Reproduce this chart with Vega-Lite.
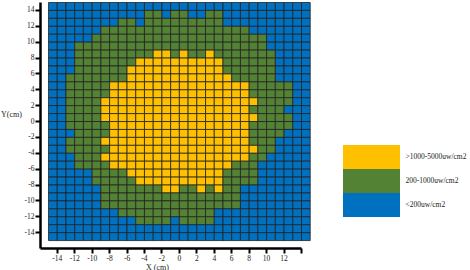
{
"$schema": "https://vega.github.io/schema/vega-lite/v6.json",
"width": 261, "height": 246,
"autosize": {"type": "none"},
"padding": {"left": 40, "top": 2, "right": 169, "bottom": 22},
"background": "white",
"config": {"view": {"stroke": null}},
"data": {"values": [
{"x":-15,"y":14,"c":"C"},{"x":-14,"y":14,"c":"C"},{"x":-13,"y":14,"c":"C"},{"x":-12,"y":14,"c":"C"},{"x":-11,"y":14,"c":"C"},{"x":-10,"y":14,"c":"C"},{"x":-9,"y":14,"c":"C"},{"x":-8,"y":14,"c":"C"},{"x":-7,"y":14,"c":"C"},{"x":-6,"y":14,"c":"C"},{"x":-5,"y":14,"c":"C"},{"x":-4,"y":14,"c":"C"},{"x":-3,"y":14,"c":"C"},{"x":-2,"y":14,"c":"C"},{"x":-1,"y":14,"c":"C"},{"x":0,"y":14,"c":"C"},{"x":1,"y":14,"c":"C"},{"x":2,"y":14,"c":"C"},{"x":3,"y":14,"c":"C"},{"x":4,"y":14,"c":"C"},{"x":5,"y":14,"c":"C"},{"x":6,"y":14,"c":"C"},{"x":7,"y":14,"c":"C"},{"x":8,"y":14,"c":"C"},{"x":9,"y":14,"c":"C"},{"x":10,"y":14,"c":"C"},{"x":11,"y":14,"c":"C"},{"x":12,"y":14,"c":"C"},{"x":13,"y":14,"c":"C"},{"x":14,"y":14,"c":"C"},
{"x":-15,"y":13,"c":"C"},{"x":-14,"y":13,"c":"C"},{"x":-13,"y":13,"c":"C"},{"x":-12,"y":13,"c":"C"},{"x":-11,"y":13,"c":"C"},{"x":-10,"y":13,"c":"C"},{"x":-9,"y":13,"c":"C"},{"x":-8,"y":13,"c":"C"},{"x":-7,"y":13,"c":"C"},{"x":-6,"y":13,"c":"C"},{"x":-5,"y":13,"c":"C"},{"x":-4,"y":13,"c":"B"},{"x":-3,"y":13,"c":"B"},{"x":-2,"y":13,"c":"C"},{"x":-1,"y":13,"c":"B"},{"x":0,"y":13,"c":"B"},{"x":1,"y":13,"c":"C"},{"x":2,"y":13,"c":"C"},{"x":3,"y":13,"c":"B"},{"x":4,"y":13,"c":"B"},{"x":5,"y":13,"c":"C"},{"x":6,"y":13,"c":"C"},{"x":7,"y":13,"c":"C"},{"x":8,"y":13,"c":"C"},{"x":9,"y":13,"c":"C"},{"x":10,"y":13,"c":"C"},{"x":11,"y":13,"c":"C"},{"x":12,"y":13,"c":"C"},{"x":13,"y":13,"c":"C"},{"x":14,"y":13,"c":"C"},
{"x":-15,"y":12,"c":"C"},{"x":-14,"y":12,"c":"C"},{"x":-13,"y":12,"c":"C"},{"x":-12,"y":12,"c":"C"},{"x":-11,"y":12,"c":"C"},{"x":-10,"y":12,"c":"C"},{"x":-9,"y":12,"c":"C"},{"x":-8,"y":12,"c":"C"},{"x":-7,"y":12,"c":"B"},{"x":-6,"y":12,"c":"B"},{"x":-5,"y":12,"c":"C"},{"x":-4,"y":12,"c":"B"},{"x":-3,"y":12,"c":"B"},{"x":-2,"y":12,"c":"B"},{"x":-1,"y":12,"c":"B"},{"x":0,"y":12,"c":"B"},{"x":1,"y":12,"c":"B"},{"x":2,"y":12,"c":"B"},{"x":3,"y":12,"c":"B"},{"x":4,"y":12,"c":"B"},{"x":5,"y":12,"c":"C"},{"x":6,"y":12,"c":"C"},{"x":7,"y":12,"c":"C"},{"x":8,"y":12,"c":"C"},{"x":9,"y":12,"c":"C"},{"x":10,"y":12,"c":"C"},{"x":11,"y":12,"c":"C"},{"x":12,"y":12,"c":"C"},{"x":13,"y":12,"c":"C"},{"x":14,"y":12,"c":"C"},
{"x":-15,"y":11,"c":"C"},{"x":-14,"y":11,"c":"C"},{"x":-13,"y":11,"c":"C"},{"x":-12,"y":11,"c":"C"},{"x":-11,"y":11,"c":"C"},{"x":-10,"y":11,"c":"C"},{"x":-9,"y":11,"c":"B"},{"x":-8,"y":11,"c":"B"},{"x":-7,"y":11,"c":"B"},{"x":-6,"y":11,"c":"B"},{"x":-5,"y":11,"c":"B"},{"x":-4,"y":11,"c":"B"},{"x":-3,"y":11,"c":"B"},{"x":-2,"y":11,"c":"B"},{"x":-1,"y":11,"c":"B"},{"x":0,"y":11,"c":"B"},{"x":1,"y":11,"c":"B"},{"x":2,"y":11,"c":"B"},{"x":3,"y":11,"c":"B"},{"x":4,"y":11,"c":"B"},{"x":5,"y":11,"c":"B"},{"x":6,"y":11,"c":"B"},{"x":7,"y":11,"c":"B"},{"x":8,"y":11,"c":"C"},{"x":9,"y":11,"c":"C"},{"x":10,"y":11,"c":"C"},{"x":11,"y":11,"c":"C"},{"x":12,"y":11,"c":"C"},{"x":13,"y":11,"c":"C"},{"x":14,"y":11,"c":"C"},
{"x":-15,"y":10,"c":"C"},{"x":-14,"y":10,"c":"C"},{"x":-13,"y":10,"c":"C"},{"x":-12,"y":10,"c":"C"},{"x":-11,"y":10,"c":"C"},{"x":-10,"y":10,"c":"B"},{"x":-9,"y":10,"c":"B"},{"x":-8,"y":10,"c":"B"},{"x":-7,"y":10,"c":"B"},{"x":-6,"y":10,"c":"B"},{"x":-5,"y":10,"c":"B"},{"x":-4,"y":10,"c":"B"},{"x":-3,"y":10,"c":"B"},{"x":-2,"y":10,"c":"B"},{"x":-1,"y":10,"c":"B"},{"x":0,"y":10,"c":"B"},{"x":1,"y":10,"c":"B"},{"x":2,"y":10,"c":"B"},{"x":3,"y":10,"c":"B"},{"x":4,"y":10,"c":"B"},{"x":5,"y":10,"c":"B"},{"x":6,"y":10,"c":"B"},{"x":7,"y":10,"c":"B"},{"x":8,"y":10,"c":"B"},{"x":9,"y":10,"c":"B"},{"x":10,"y":10,"c":"C"},{"x":11,"y":10,"c":"C"},{"x":12,"y":10,"c":"C"},{"x":13,"y":10,"c":"C"},{"x":14,"y":10,"c":"C"},
{"x":-15,"y":9,"c":"C"},{"x":-14,"y":9,"c":"C"},{"x":-13,"y":9,"c":"C"},{"x":-12,"y":9,"c":"B"},{"x":-11,"y":9,"c":"B"},{"x":-10,"y":9,"c":"B"},{"x":-9,"y":9,"c":"B"},{"x":-8,"y":9,"c":"B"},{"x":-7,"y":9,"c":"B"},{"x":-6,"y":9,"c":"B"},{"x":-5,"y":9,"c":"B"},{"x":-4,"y":9,"c":"B"},{"x":-3,"y":9,"c":"B"},{"x":-2,"y":9,"c":"B"},{"x":-1,"y":9,"c":"B"},{"x":0,"y":9,"c":"B"},{"x":1,"y":9,"c":"B"},{"x":2,"y":9,"c":"B"},{"x":3,"y":9,"c":"B"},{"x":4,"y":9,"c":"B"},{"x":5,"y":9,"c":"B"},{"x":6,"y":9,"c":"B"},{"x":7,"y":9,"c":"B"},{"x":8,"y":9,"c":"B"},{"x":9,"y":9,"c":"B"},{"x":10,"y":9,"c":"C"},{"x":11,"y":9,"c":"C"},{"x":12,"y":9,"c":"C"},{"x":13,"y":9,"c":"C"},{"x":14,"y":9,"c":"C"},
{"x":-15,"y":8,"c":"C"},{"x":-14,"y":8,"c":"C"},{"x":-13,"y":8,"c":"C"},{"x":-12,"y":8,"c":"B"},{"x":-11,"y":8,"c":"B"},{"x":-10,"y":8,"c":"B"},{"x":-9,"y":8,"c":"B"},{"x":-8,"y":8,"c":"B"},{"x":-7,"y":8,"c":"B"},{"x":-6,"y":8,"c":"B"},{"x":-5,"y":8,"c":"B"},{"x":-4,"y":8,"c":"B"},{"x":-3,"y":8,"c":"A"},{"x":-2,"y":8,"c":"A"},{"x":-1,"y":8,"c":"B"},{"x":0,"y":8,"c":"A"},{"x":1,"y":8,"c":"B"},{"x":2,"y":8,"c":"B"},{"x":3,"y":8,"c":"A"},{"x":4,"y":8,"c":"B"},{"x":5,"y":8,"c":"B"},{"x":6,"y":8,"c":"B"},{"x":7,"y":8,"c":"B"},{"x":8,"y":8,"c":"B"},{"x":9,"y":8,"c":"B"},{"x":10,"y":8,"c":"B"},{"x":11,"y":8,"c":"C"},{"x":12,"y":8,"c":"C"},{"x":13,"y":8,"c":"C"},{"x":14,"y":8,"c":"C"},
{"x":-15,"y":7,"c":"C"},{"x":-14,"y":7,"c":"C"},{"x":-13,"y":7,"c":"C"},{"x":-12,"y":7,"c":"B"},{"x":-11,"y":7,"c":"B"},{"x":-10,"y":7,"c":"B"},{"x":-9,"y":7,"c":"B"},{"x":-8,"y":7,"c":"B"},{"x":-7,"y":7,"c":"B"},{"x":-6,"y":7,"c":"B"},{"x":-5,"y":7,"c":"A"},{"x":-4,"y":7,"c":"A"},{"x":-3,"y":7,"c":"A"},{"x":-2,"y":7,"c":"A"},{"x":-1,"y":7,"c":"A"},{"x":0,"y":7,"c":"A"},{"x":1,"y":7,"c":"A"},{"x":2,"y":7,"c":"A"},{"x":3,"y":7,"c":"A"},{"x":4,"y":7,"c":"A"},{"x":5,"y":7,"c":"B"},{"x":6,"y":7,"c":"B"},{"x":7,"y":7,"c":"B"},{"x":8,"y":7,"c":"B"},{"x":9,"y":7,"c":"B"},{"x":10,"y":7,"c":"B"},{"x":11,"y":7,"c":"C"},{"x":12,"y":7,"c":"C"},{"x":13,"y":7,"c":"C"},{"x":14,"y":7,"c":"C"},
{"x":-15,"y":6,"c":"C"},{"x":-14,"y":6,"c":"C"},{"x":-13,"y":6,"c":"C"},{"x":-12,"y":6,"c":"B"},{"x":-11,"y":6,"c":"B"},{"x":-10,"y":6,"c":"B"},{"x":-9,"y":6,"c":"B"},{"x":-8,"y":6,"c":"B"},{"x":-7,"y":6,"c":"B"},{"x":-6,"y":6,"c":"A"},{"x":-5,"y":6,"c":"A"},{"x":-4,"y":6,"c":"A"},{"x":-3,"y":6,"c":"A"},{"x":-2,"y":6,"c":"A"},{"x":-1,"y":6,"c":"A"},{"x":0,"y":6,"c":"A"},{"x":1,"y":6,"c":"A"},{"x":2,"y":6,"c":"A"},{"x":3,"y":6,"c":"A"},{"x":4,"y":6,"c":"A"},{"x":5,"y":6,"c":"B"},{"x":6,"y":6,"c":"B"},{"x":7,"y":6,"c":"B"},{"x":8,"y":6,"c":"B"},{"x":9,"y":6,"c":"B"},{"x":10,"y":6,"c":"B"},{"x":11,"y":6,"c":"C"},{"x":12,"y":6,"c":"C"},{"x":13,"y":6,"c":"C"},{"x":14,"y":6,"c":"C"},
{"x":-15,"y":5,"c":"C"},{"x":-14,"y":5,"c":"C"},{"x":-13,"y":5,"c":"B"},{"x":-12,"y":5,"c":"B"},{"x":-11,"y":5,"c":"B"},{"x":-10,"y":5,"c":"B"},{"x":-9,"y":5,"c":"B"},{"x":-8,"y":5,"c":"B"},{"x":-7,"y":5,"c":"B"},{"x":-6,"y":5,"c":"A"},{"x":-5,"y":5,"c":"A"},{"x":-4,"y":5,"c":"A"},{"x":-3,"y":5,"c":"A"},{"x":-2,"y":5,"c":"A"},{"x":-1,"y":5,"c":"A"},{"x":0,"y":5,"c":"A"},{"x":1,"y":5,"c":"A"},{"x":2,"y":5,"c":"A"},{"x":3,"y":5,"c":"A"},{"x":4,"y":5,"c":"A"},{"x":5,"y":5,"c":"A"},{"x":6,"y":5,"c":"B"},{"x":7,"y":5,"c":"B"},{"x":8,"y":5,"c":"B"},{"x":9,"y":5,"c":"B"},{"x":10,"y":5,"c":"B"},{"x":11,"y":5,"c":"C"},{"x":12,"y":5,"c":"C"},{"x":13,"y":5,"c":"C"},{"x":14,"y":5,"c":"C"},
{"x":-15,"y":4,"c":"C"},{"x":-14,"y":4,"c":"C"},{"x":-13,"y":4,"c":"B"},{"x":-12,"y":4,"c":"B"},{"x":-11,"y":4,"c":"B"},{"x":-10,"y":4,"c":"B"},{"x":-9,"y":4,"c":"B"},{"x":-8,"y":4,"c":"A"},{"x":-7,"y":4,"c":"A"},{"x":-6,"y":4,"c":"A"},{"x":-5,"y":4,"c":"A"},{"x":-4,"y":4,"c":"A"},{"x":-3,"y":4,"c":"A"},{"x":-2,"y":4,"c":"A"},{"x":-1,"y":4,"c":"A"},{"x":0,"y":4,"c":"A"},{"x":1,"y":4,"c":"A"},{"x":2,"y":4,"c":"A"},{"x":3,"y":4,"c":"A"},{"x":4,"y":4,"c":"A"},{"x":5,"y":4,"c":"A"},{"x":6,"y":4,"c":"A"},{"x":7,"y":4,"c":"A"},{"x":8,"y":4,"c":"B"},{"x":9,"y":4,"c":"B"},{"x":10,"y":4,"c":"B"},{"x":11,"y":4,"c":"B"},{"x":12,"y":4,"c":"B"},{"x":13,"y":4,"c":"C"},{"x":14,"y":4,"c":"C"},
{"x":-15,"y":3,"c":"C"},{"x":-14,"y":3,"c":"C"},{"x":-13,"y":3,"c":"B"},{"x":-12,"y":3,"c":"B"},{"x":-11,"y":3,"c":"B"},{"x":-10,"y":3,"c":"B"},{"x":-9,"y":3,"c":"B"},{"x":-8,"y":3,"c":"A"},{"x":-7,"y":3,"c":"A"},{"x":-6,"y":3,"c":"A"},{"x":-5,"y":3,"c":"A"},{"x":-4,"y":3,"c":"A"},{"x":-3,"y":3,"c":"A"},{"x":-2,"y":3,"c":"A"},{"x":-1,"y":3,"c":"A"},{"x":0,"y":3,"c":"A"},{"x":1,"y":3,"c":"A"},{"x":2,"y":3,"c":"A"},{"x":3,"y":3,"c":"A"},{"x":4,"y":3,"c":"A"},{"x":5,"y":3,"c":"A"},{"x":6,"y":3,"c":"A"},{"x":7,"y":3,"c":"A"},{"x":8,"y":3,"c":"B"},{"x":9,"y":3,"c":"B"},{"x":10,"y":3,"c":"B"},{"x":11,"y":3,"c":"B"},{"x":12,"y":3,"c":"B"},{"x":13,"y":3,"c":"C"},{"x":14,"y":3,"c":"C"},
{"x":-15,"y":2,"c":"C"},{"x":-14,"y":2,"c":"C"},{"x":-13,"y":2,"c":"B"},{"x":-12,"y":2,"c":"B"},{"x":-11,"y":2,"c":"B"},{"x":-10,"y":2,"c":"B"},{"x":-9,"y":2,"c":"A"},{"x":-8,"y":2,"c":"A"},{"x":-7,"y":2,"c":"A"},{"x":-6,"y":2,"c":"A"},{"x":-5,"y":2,"c":"A"},{"x":-4,"y":2,"c":"A"},{"x":-3,"y":2,"c":"A"},{"x":-2,"y":2,"c":"A"},{"x":-1,"y":2,"c":"A"},{"x":0,"y":2,"c":"A"},{"x":1,"y":2,"c":"A"},{"x":2,"y":2,"c":"A"},{"x":3,"y":2,"c":"A"},{"x":4,"y":2,"c":"A"},{"x":5,"y":2,"c":"A"},{"x":6,"y":2,"c":"A"},{"x":7,"y":2,"c":"A"},{"x":8,"y":2,"c":"A"},{"x":9,"y":2,"c":"B"},{"x":10,"y":2,"c":"B"},{"x":11,"y":2,"c":"B"},{"x":12,"y":2,"c":"B"},{"x":13,"y":2,"c":"C"},{"x":14,"y":2,"c":"C"},
{"x":-15,"y":1,"c":"C"},{"x":-14,"y":1,"c":"C"},{"x":-13,"y":1,"c":"B"},{"x":-12,"y":1,"c":"B"},{"x":-11,"y":1,"c":"B"},{"x":-10,"y":1,"c":"B"},{"x":-9,"y":1,"c":"A"},{"x":-8,"y":1,"c":"A"},{"x":-7,"y":1,"c":"A"},{"x":-6,"y":1,"c":"A"},{"x":-5,"y":1,"c":"A"},{"x":-4,"y":1,"c":"A"},{"x":-3,"y":1,"c":"A"},{"x":-2,"y":1,"c":"A"},{"x":-1,"y":1,"c":"A"},{"x":0,"y":1,"c":"A"},{"x":1,"y":1,"c":"A"},{"x":2,"y":1,"c":"A"},{"x":3,"y":1,"c":"A"},{"x":4,"y":1,"c":"A"},{"x":5,"y":1,"c":"A"},{"x":6,"y":1,"c":"A"},{"x":7,"y":1,"c":"A"},{"x":8,"y":1,"c":"B"},{"x":9,"y":1,"c":"B"},{"x":10,"y":1,"c":"B"},{"x":11,"y":1,"c":"B"},{"x":12,"y":1,"c":"C"},{"x":13,"y":1,"c":"C"},{"x":14,"y":1,"c":"C"},
{"x":-15,"y":0,"c":"C"},{"x":-14,"y":0,"c":"C"},{"x":-13,"y":0,"c":"B"},{"x":-12,"y":0,"c":"B"},{"x":-11,"y":0,"c":"B"},{"x":-10,"y":0,"c":"B"},{"x":-9,"y":0,"c":"A"},{"x":-8,"y":0,"c":"A"},{"x":-7,"y":0,"c":"A"},{"x":-6,"y":0,"c":"A"},{"x":-5,"y":0,"c":"A"},{"x":-4,"y":0,"c":"A"},{"x":-3,"y":0,"c":"A"},{"x":-2,"y":0,"c":"A"},{"x":-1,"y":0,"c":"A"},{"x":0,"y":0,"c":"A"},{"x":1,"y":0,"c":"A"},{"x":2,"y":0,"c":"A"},{"x":3,"y":0,"c":"A"},{"x":4,"y":0,"c":"A"},{"x":5,"y":0,"c":"A"},{"x":6,"y":0,"c":"A"},{"x":7,"y":0,"c":"A"},{"x":8,"y":0,"c":"A"},{"x":9,"y":0,"c":"B"},{"x":10,"y":0,"c":"B"},{"x":11,"y":0,"c":"B"},{"x":12,"y":0,"c":"B"},{"x":13,"y":0,"c":"C"},{"x":14,"y":0,"c":"C"},
{"x":-15,"y":-1,"c":"C"},{"x":-14,"y":-1,"c":"C"},{"x":-13,"y":-1,"c":"B"},{"x":-12,"y":-1,"c":"B"},{"x":-11,"y":-1,"c":"B"},{"x":-10,"y":-1,"c":"B"},{"x":-9,"y":-1,"c":"B"},{"x":-8,"y":-1,"c":"A"},{"x":-7,"y":-1,"c":"A"},{"x":-6,"y":-1,"c":"A"},{"x":-5,"y":-1,"c":"A"},{"x":-4,"y":-1,"c":"A"},{"x":-3,"y":-1,"c":"A"},{"x":-2,"y":-1,"c":"A"},{"x":-1,"y":-1,"c":"A"},{"x":0,"y":-1,"c":"A"},{"x":1,"y":-1,"c":"A"},{"x":2,"y":-1,"c":"A"},{"x":3,"y":-1,"c":"A"},{"x":4,"y":-1,"c":"A"},{"x":5,"y":-1,"c":"A"},{"x":6,"y":-1,"c":"A"},{"x":7,"y":-1,"c":"A"},{"x":8,"y":-1,"c":"B"},{"x":9,"y":-1,"c":"B"},{"x":10,"y":-1,"c":"B"},{"x":11,"y":-1,"c":"B"},{"x":12,"y":-1,"c":"B"},{"x":13,"y":-1,"c":"C"},{"x":14,"y":-1,"c":"C"},
{"x":-15,"y":-2,"c":"C"},{"x":-14,"y":-2,"c":"C"},{"x":-13,"y":-2,"c":"C"},{"x":-12,"y":-2,"c":"B"},{"x":-11,"y":-2,"c":"B"},{"x":-10,"y":-2,"c":"B"},{"x":-9,"y":-2,"c":"B"},{"x":-8,"y":-2,"c":"A"},{"x":-7,"y":-2,"c":"A"},{"x":-6,"y":-2,"c":"A"},{"x":-5,"y":-2,"c":"A"},{"x":-4,"y":-2,"c":"A"},{"x":-3,"y":-2,"c":"A"},{"x":-2,"y":-2,"c":"A"},{"x":-1,"y":-2,"c":"A"},{"x":0,"y":-2,"c":"A"},{"x":1,"y":-2,"c":"A"},{"x":2,"y":-2,"c":"A"},{"x":3,"y":-2,"c":"A"},{"x":4,"y":-2,"c":"A"},{"x":5,"y":-2,"c":"A"},{"x":6,"y":-2,"c":"A"},{"x":7,"y":-2,"c":"A"},{"x":8,"y":-2,"c":"B"},{"x":9,"y":-2,"c":"B"},{"x":10,"y":-2,"c":"B"},{"x":11,"y":-2,"c":"B"},{"x":12,"y":-2,"c":"C"},{"x":13,"y":-2,"c":"C"},{"x":14,"y":-2,"c":"C"},
{"x":-15,"y":-3,"c":"C"},{"x":-14,"y":-3,"c":"C"},{"x":-13,"y":-3,"c":"B"},{"x":-12,"y":-3,"c":"B"},{"x":-11,"y":-3,"c":"B"},{"x":-10,"y":-3,"c":"B"},{"x":-9,"y":-3,"c":"A"},{"x":-8,"y":-3,"c":"A"},{"x":-7,"y":-3,"c":"A"},{"x":-6,"y":-3,"c":"A"},{"x":-5,"y":-3,"c":"A"},{"x":-4,"y":-3,"c":"A"},{"x":-3,"y":-3,"c":"A"},{"x":-2,"y":-3,"c":"A"},{"x":-1,"y":-3,"c":"A"},{"x":0,"y":-3,"c":"A"},{"x":1,"y":-3,"c":"A"},{"x":2,"y":-3,"c":"A"},{"x":3,"y":-3,"c":"A"},{"x":4,"y":-3,"c":"A"},{"x":5,"y":-3,"c":"A"},{"x":6,"y":-3,"c":"A"},{"x":7,"y":-3,"c":"A"},{"x":8,"y":-3,"c":"B"},{"x":9,"y":-3,"c":"B"},{"x":10,"y":-3,"c":"B"},{"x":11,"y":-3,"c":"C"},{"x":12,"y":-3,"c":"C"},{"x":13,"y":-3,"c":"C"},{"x":14,"y":-3,"c":"C"},
{"x":-15,"y":-4,"c":"C"},{"x":-14,"y":-4,"c":"C"},{"x":-13,"y":-4,"c":"B"},{"x":-12,"y":-4,"c":"B"},{"x":-11,"y":-4,"c":"B"},{"x":-10,"y":-4,"c":"B"},{"x":-9,"y":-4,"c":"B"},{"x":-8,"y":-4,"c":"A"},{"x":-7,"y":-4,"c":"A"},{"x":-6,"y":-4,"c":"A"},{"x":-5,"y":-4,"c":"A"},{"x":-4,"y":-4,"c":"A"},{"x":-3,"y":-4,"c":"A"},{"x":-2,"y":-4,"c":"A"},{"x":-1,"y":-4,"c":"A"},{"x":0,"y":-4,"c":"A"},{"x":1,"y":-4,"c":"A"},{"x":2,"y":-4,"c":"A"},{"x":3,"y":-4,"c":"A"},{"x":4,"y":-4,"c":"A"},{"x":5,"y":-4,"c":"A"},{"x":6,"y":-4,"c":"A"},{"x":7,"y":-4,"c":"A"},{"x":8,"y":-4,"c":"A"},{"x":9,"y":-4,"c":"B"},{"x":10,"y":-4,"c":"B"},{"x":11,"y":-4,"c":"C"},{"x":12,"y":-4,"c":"C"},{"x":13,"y":-4,"c":"C"},{"x":14,"y":-4,"c":"C"},
{"x":-15,"y":-5,"c":"C"},{"x":-14,"y":-5,"c":"C"},{"x":-13,"y":-5,"c":"C"},{"x":-12,"y":-5,"c":"B"},{"x":-11,"y":-5,"c":"B"},{"x":-10,"y":-5,"c":"B"},{"x":-9,"y":-5,"c":"A"},{"x":-8,"y":-5,"c":"A"},{"x":-7,"y":-5,"c":"A"},{"x":-6,"y":-5,"c":"A"},{"x":-5,"y":-5,"c":"A"},{"x":-4,"y":-5,"c":"A"},{"x":-3,"y":-5,"c":"A"},{"x":-2,"y":-5,"c":"A"},{"x":-1,"y":-5,"c":"A"},{"x":0,"y":-5,"c":"A"},{"x":1,"y":-5,"c":"A"},{"x":2,"y":-5,"c":"A"},{"x":3,"y":-5,"c":"A"},{"x":4,"y":-5,"c":"A"},{"x":5,"y":-5,"c":"A"},{"x":6,"y":-5,"c":"A"},{"x":7,"y":-5,"c":"A"},{"x":8,"y":-5,"c":"B"},{"x":9,"y":-5,"c":"B"},{"x":10,"y":-5,"c":"C"},{"x":11,"y":-5,"c":"C"},{"x":12,"y":-5,"c":"C"},{"x":13,"y":-5,"c":"C"},{"x":14,"y":-5,"c":"C"},
{"x":-15,"y":-6,"c":"C"},{"x":-14,"y":-6,"c":"C"},{"x":-13,"y":-6,"c":"C"},{"x":-12,"y":-6,"c":"B"},{"x":-11,"y":-6,"c":"B"},{"x":-10,"y":-6,"c":"B"},{"x":-9,"y":-6,"c":"B"},{"x":-8,"y":-6,"c":"A"},{"x":-7,"y":-6,"c":"A"},{"x":-6,"y":-6,"c":"A"},{"x":-5,"y":-6,"c":"A"},{"x":-4,"y":-6,"c":"A"},{"x":-3,"y":-6,"c":"A"},{"x":-2,"y":-6,"c":"A"},{"x":-1,"y":-6,"c":"A"},{"x":0,"y":-6,"c":"A"},{"x":1,"y":-6,"c":"A"},{"x":2,"y":-6,"c":"A"},{"x":3,"y":-6,"c":"A"},{"x":4,"y":-6,"c":"A"},{"x":5,"y":-6,"c":"A"},{"x":6,"y":-6,"c":"B"},{"x":7,"y":-6,"c":"B"},{"x":8,"y":-6,"c":"B"},{"x":9,"y":-6,"c":"C"},{"x":10,"y":-6,"c":"C"},{"x":11,"y":-6,"c":"C"},{"x":12,"y":-6,"c":"C"},{"x":13,"y":-6,"c":"C"},{"x":14,"y":-6,"c":"C"},
{"x":-15,"y":-7,"c":"C"},{"x":-14,"y":-7,"c":"C"},{"x":-13,"y":-7,"c":"C"},{"x":-12,"y":-7,"c":"C"},{"x":-11,"y":-7,"c":"C"},{"x":-10,"y":-7,"c":"B"},{"x":-9,"y":-7,"c":"B"},{"x":-8,"y":-7,"c":"B"},{"x":-7,"y":-7,"c":"B"},{"x":-6,"y":-7,"c":"A"},{"x":-5,"y":-7,"c":"A"},{"x":-4,"y":-7,"c":"A"},{"x":-3,"y":-7,"c":"A"},{"x":-2,"y":-7,"c":"A"},{"x":-1,"y":-7,"c":"A"},{"x":0,"y":-7,"c":"A"},{"x":1,"y":-7,"c":"A"},{"x":2,"y":-7,"c":"A"},{"x":3,"y":-7,"c":"A"},{"x":4,"y":-7,"c":"A"},{"x":5,"y":-7,"c":"B"},{"x":6,"y":-7,"c":"B"},{"x":7,"y":-7,"c":"B"},{"x":8,"y":-7,"c":"B"},{"x":9,"y":-7,"c":"C"},{"x":10,"y":-7,"c":"C"},{"x":11,"y":-7,"c":"C"},{"x":12,"y":-7,"c":"C"},{"x":13,"y":-7,"c":"C"},{"x":14,"y":-7,"c":"C"},
{"x":-15,"y":-8,"c":"C"},{"x":-14,"y":-8,"c":"C"},{"x":-13,"y":-8,"c":"C"},{"x":-12,"y":-8,"c":"C"},{"x":-11,"y":-8,"c":"C"},{"x":-10,"y":-8,"c":"B"},{"x":-9,"y":-8,"c":"B"},{"x":-8,"y":-8,"c":"B"},{"x":-7,"y":-8,"c":"B"},{"x":-6,"y":-8,"c":"B"},{"x":-5,"y":-8,"c":"A"},{"x":-4,"y":-8,"c":"A"},{"x":-3,"y":-8,"c":"A"},{"x":-2,"y":-8,"c":"A"},{"x":-1,"y":-8,"c":"A"},{"x":0,"y":-8,"c":"A"},{"x":1,"y":-8,"c":"A"},{"x":2,"y":-8,"c":"A"},{"x":3,"y":-8,"c":"A"},{"x":4,"y":-8,"c":"A"},{"x":5,"y":-8,"c":"B"},{"x":6,"y":-8,"c":"B"},{"x":7,"y":-8,"c":"B"},{"x":8,"y":-8,"c":"B"},{"x":9,"y":-8,"c":"C"},{"x":10,"y":-8,"c":"C"},{"x":11,"y":-8,"c":"C"},{"x":12,"y":-8,"c":"C"},{"x":13,"y":-8,"c":"C"},{"x":14,"y":-8,"c":"C"},
{"x":-15,"y":-9,"c":"C"},{"x":-14,"y":-9,"c":"C"},{"x":-13,"y":-9,"c":"C"},{"x":-12,"y":-9,"c":"C"},{"x":-11,"y":-9,"c":"C"},{"x":-10,"y":-9,"c":"C"},{"x":-9,"y":-9,"c":"B"},{"x":-8,"y":-9,"c":"B"},{"x":-7,"y":-9,"c":"B"},{"x":-6,"y":-9,"c":"B"},{"x":-5,"y":-9,"c":"B"},{"x":-4,"y":-9,"c":"B"},{"x":-3,"y":-9,"c":"B"},{"x":-2,"y":-9,"c":"A"},{"x":-1,"y":-9,"c":"A"},{"x":0,"y":-9,"c":"B"},{"x":1,"y":-9,"c":"B"},{"x":2,"y":-9,"c":"A"},{"x":3,"y":-9,"c":"B"},{"x":4,"y":-9,"c":"A"},{"x":5,"y":-9,"c":"B"},{"x":6,"y":-9,"c":"B"},{"x":7,"y":-9,"c":"C"},{"x":8,"y":-9,"c":"C"},{"x":9,"y":-9,"c":"C"},{"x":10,"y":-9,"c":"C"},{"x":11,"y":-9,"c":"C"},{"x":12,"y":-9,"c":"C"},{"x":13,"y":-9,"c":"C"},{"x":14,"y":-9,"c":"C"},
{"x":-15,"y":-10,"c":"C"},{"x":-14,"y":-10,"c":"C"},{"x":-13,"y":-10,"c":"C"},{"x":-12,"y":-10,"c":"C"},{"x":-11,"y":-10,"c":"C"},{"x":-10,"y":-10,"c":"C"},{"x":-9,"y":-10,"c":"B"},{"x":-8,"y":-10,"c":"B"},{"x":-7,"y":-10,"c":"B"},{"x":-6,"y":-10,"c":"B"},{"x":-5,"y":-10,"c":"B"},{"x":-4,"y":-10,"c":"B"},{"x":-3,"y":-10,"c":"B"},{"x":-2,"y":-10,"c":"B"},{"x":-1,"y":-10,"c":"B"},{"x":0,"y":-10,"c":"B"},{"x":1,"y":-10,"c":"B"},{"x":2,"y":-10,"c":"B"},{"x":3,"y":-10,"c":"B"},{"x":4,"y":-10,"c":"B"},{"x":5,"y":-10,"c":"B"},{"x":6,"y":-10,"c":"B"},{"x":7,"y":-10,"c":"C"},{"x":8,"y":-10,"c":"C"},{"x":9,"y":-10,"c":"C"},{"x":10,"y":-10,"c":"C"},{"x":11,"y":-10,"c":"C"},{"x":12,"y":-10,"c":"C"},{"x":13,"y":-10,"c":"C"},{"x":14,"y":-10,"c":"C"},
{"x":-15,"y":-11,"c":"C"},{"x":-14,"y":-11,"c":"C"},{"x":-13,"y":-11,"c":"C"},{"x":-12,"y":-11,"c":"C"},{"x":-11,"y":-11,"c":"C"},{"x":-10,"y":-11,"c":"C"},{"x":-9,"y":-11,"c":"B"},{"x":-8,"y":-11,"c":"B"},{"x":-7,"y":-11,"c":"B"},{"x":-6,"y":-11,"c":"B"},{"x":-5,"y":-11,"c":"B"},{"x":-4,"y":-11,"c":"B"},{"x":-3,"y":-11,"c":"B"},{"x":-2,"y":-11,"c":"B"},{"x":-1,"y":-11,"c":"B"},{"x":0,"y":-11,"c":"B"},{"x":1,"y":-11,"c":"B"},{"x":2,"y":-11,"c":"B"},{"x":3,"y":-11,"c":"B"},{"x":4,"y":-11,"c":"B"},{"x":5,"y":-11,"c":"B"},{"x":6,"y":-11,"c":"B"},{"x":7,"y":-11,"c":"C"},{"x":8,"y":-11,"c":"C"},{"x":9,"y":-11,"c":"C"},{"x":10,"y":-11,"c":"C"},{"x":11,"y":-11,"c":"C"},{"x":12,"y":-11,"c":"C"},{"x":13,"y":-11,"c":"C"},{"x":14,"y":-11,"c":"C"},
{"x":-15,"y":-12,"c":"C"},{"x":-14,"y":-12,"c":"C"},{"x":-13,"y":-12,"c":"C"},{"x":-12,"y":-12,"c":"C"},{"x":-11,"y":-12,"c":"C"},{"x":-10,"y":-12,"c":"C"},{"x":-9,"y":-12,"c":"C"},{"x":-8,"y":-12,"c":"C"},{"x":-7,"y":-12,"c":"B"},{"x":-6,"y":-12,"c":"B"},{"x":-5,"y":-12,"c":"B"},{"x":-4,"y":-12,"c":"B"},{"x":-3,"y":-12,"c":"B"},{"x":-2,"y":-12,"c":"B"},{"x":-1,"y":-12,"c":"B"},{"x":0,"y":-12,"c":"B"},{"x":1,"y":-12,"c":"B"},{"x":2,"y":-12,"c":"B"},{"x":3,"y":-12,"c":"B"},{"x":4,"y":-12,"c":"C"},{"x":5,"y":-12,"c":"C"},{"x":6,"y":-12,"c":"C"},{"x":7,"y":-12,"c":"C"},{"x":8,"y":-12,"c":"C"},{"x":9,"y":-12,"c":"C"},{"x":10,"y":-12,"c":"C"},{"x":11,"y":-12,"c":"C"},{"x":12,"y":-12,"c":"C"},{"x":13,"y":-12,"c":"C"},{"x":14,"y":-12,"c":"C"},
{"x":-15,"y":-13,"c":"C"},{"x":-14,"y":-13,"c":"C"},{"x":-13,"y":-13,"c":"C"},{"x":-12,"y":-13,"c":"C"},{"x":-11,"y":-13,"c":"C"},{"x":-10,"y":-13,"c":"C"},{"x":-9,"y":-13,"c":"C"},{"x":-8,"y":-13,"c":"C"},{"x":-7,"y":-13,"c":"C"},{"x":-6,"y":-13,"c":"C"},{"x":-5,"y":-13,"c":"B"},{"x":-4,"y":-13,"c":"B"},{"x":-3,"y":-13,"c":"B"},{"x":-2,"y":-13,"c":"B"},{"x":-1,"y":-13,"c":"C"},{"x":0,"y":-13,"c":"B"},{"x":1,"y":-13,"c":"B"},{"x":2,"y":-13,"c":"B"},{"x":3,"y":-13,"c":"B"},{"x":4,"y":-13,"c":"C"},{"x":5,"y":-13,"c":"C"},{"x":6,"y":-13,"c":"C"},{"x":7,"y":-13,"c":"C"},{"x":8,"y":-13,"c":"C"},{"x":9,"y":-13,"c":"C"},{"x":10,"y":-13,"c":"C"},{"x":11,"y":-13,"c":"C"},{"x":12,"y":-13,"c":"C"},{"x":13,"y":-13,"c":"C"},{"x":14,"y":-13,"c":"C"},
{"x":-15,"y":-14,"c":"C"},{"x":-14,"y":-14,"c":"C"},{"x":-13,"y":-14,"c":"C"},{"x":-12,"y":-14,"c":"C"},{"x":-11,"y":-14,"c":"C"},{"x":-10,"y":-14,"c":"C"},{"x":-9,"y":-14,"c":"C"},{"x":-8,"y":-14,"c":"C"},{"x":-7,"y":-14,"c":"C"},{"x":-6,"y":-14,"c":"C"},{"x":-5,"y":-14,"c":"C"},{"x":-4,"y":-14,"c":"C"},{"x":-3,"y":-14,"c":"C"},{"x":-2,"y":-14,"c":"C"},{"x":-1,"y":-14,"c":"C"},{"x":0,"y":-14,"c":"C"},{"x":1,"y":-14,"c":"C"},{"x":2,"y":-14,"c":"C"},{"x":3,"y":-14,"c":"C"},{"x":4,"y":-14,"c":"C"},{"x":5,"y":-14,"c":"C"},{"x":6,"y":-14,"c":"C"},{"x":7,"y":-14,"c":"C"},{"x":8,"y":-14,"c":"C"},{"x":9,"y":-14,"c":"C"},{"x":10,"y":-14,"c":"C"},{"x":11,"y":-14,"c":"C"},{"x":12,"y":-14,"c":"C"},{"x":13,"y":-14,"c":"C"},{"x":14,"y":-14,"c":"C"},
{"x":-15,"y":-15,"c":"C"},{"x":-14,"y":-15,"c":"C"},{"x":-13,"y":-15,"c":"C"},{"x":-12,"y":-15,"c":"C"},{"x":-11,"y":-15,"c":"C"},{"x":-10,"y":-15,"c":"C"},{"x":-9,"y":-15,"c":"C"},{"x":-8,"y":-15,"c":"C"},{"x":-7,"y":-15,"c":"C"},{"x":-6,"y":-15,"c":"C"},{"x":-5,"y":-15,"c":"C"},{"x":-4,"y":-15,"c":"C"},{"x":-3,"y":-15,"c":"C"},{"x":-2,"y":-15,"c":"C"},{"x":-1,"y":-15,"c":"C"},{"x":0,"y":-15,"c":"C"},{"x":1,"y":-15,"c":"C"},{"x":2,"y":-15,"c":"C"},{"x":3,"y":-15,"c":"C"},{"x":4,"y":-15,"c":"C"},{"x":5,"y":-15,"c":"C"},{"x":6,"y":-15,"c":"C"},{"x":7,"y":-15,"c":"C"},{"x":8,"y":-15,"c":"C"},{"x":9,"y":-15,"c":"C"},{"x":10,"y":-15,"c":"C"},{"x":11,"y":-15,"c":"C"},{"x":12,"y":-15,"c":"C"},{"x":13,"y":-15,"c":"C"},{"x":14,"y":-15,"c":"C"}
]},
"mark": {"type": "rect", "stroke": "#222222", "strokeWidth": 0.8, "opacity": 1},
"encoding": {
"x": {"field": "x", "type": "quantitative", "bin": {"binned": true, "step": 1},
 "scale": {"domain": [-15.92, 14], "nice": false, "zero": false},
 "axis": {"values": [-14,-12,-10,-8,-6,-4,-2,0,2,4,6,8,10,12,14], "labelExpr": "datum.value == 14 ? '' : '' + datum.value",
  "title": "X (cm)", "titleFont": "Liberation Serif", "titleFontSize": 8, "titleFontWeight": "normal", "titleColor": "#222",
  "titleX": 117, "titleY": 19, "titleAnchor": null, "titleAlign": "center", "titleBaseline": "middle",
  "labelFont": "Liberation Serif", "labelFontSize": 7.5, "labelColor": "#222", "labelPadding": 1.5,
  "domainColor": "#000", "domainWidth": 2.5, "tickColor": "#000", "tickWidth": 2, "tickSize": 5, "grid": false, "labelFlush": false, "labelOverlap": false}},
"y": {"field": "y", "type": "quantitative", "bin": {"binned": true, "step": 1},
 "scale": {"domain": [-16, 15], "nice": false, "zero": false},
 "axis": {"values": [-14,-12,-10,-8,-6,-4,-2,0,2,4,6,8,10,12,14], "labelExpr": "'' + datum.value",
  "title": "Y(cm)", "titleFont": "Liberation Serif", "titleFontSize": 8, "titleFontWeight": "normal", "titleColor": "#222",
  "titleAngle": 0, "titleX": -29, "titleY": 112, "titleAlign": "center", "titleBaseline": "middle",
  "labelFont": "Liberation Serif", "labelFontSize": 7.5, "labelColor": "#222", "labelPadding": 1,
  "domainColor": "#000", "domainWidth": 2.5, "tickColor": "#000", "tickWidth": 2, "tickSize": 5, "grid": false, "labelFlush": false, "labelOverlap": false}},
"color": {"field": "c", "type": "nominal",
 "scale": {"domain": ["A", "B", "C"], "range": ["#FFC000", "#548235", "#0070C0"]},
 "legend": {"title": null, "orient": "none", "legendX": 319.5, "legendY": 143,
  "symbolType": "M-2.375,-1H2.375V1H-2.375Z", "symbolSize": 576, "symbolStrokeWidth": 0, "symbolOpacity": 1,
  "rowPadding": 0, "labelOffset": 22, "labelFont": "Liberation Serif", "labelFontSize": 7.5, "labelColor": "#222",
  "labelLimit": 0,
  "labelExpr": "datum.value == 'A' ? '>1000-5000uw/cm2' : datum.value == 'B' ? '200-1000uw/cm2' : '<200uw/cm2'"}}
}
}
